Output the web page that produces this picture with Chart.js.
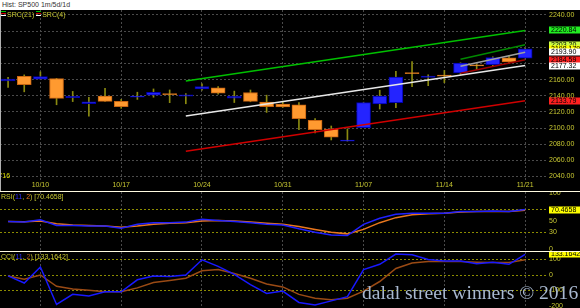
<!DOCTYPE html>
<html>
<head>
<meta charset="utf-8">
<script src="https://cdn.jsdelivr.net/npm/chart.js@4.4.0/dist/chart.umd.min.js"></script>
<style>
  html, body { margin: 0; padding: 0; background: #000; }
  body { width: 580px; height: 308px; position: relative; overflow: hidden; font-family: "Liberation Sans", Arial, sans-serif; }
  #hdr { position: absolute; left: 0; top: 0; width: 580px; height: 10px; background: #fff; color: #333; font-size: 7px; line-height: 10px; text-indent: 2px; }
  canvas { position: absolute; left: 0; }
  #c1 { top: 10px; }
  #c2 { top: 192px; }
  #c3 { top: 252px; }
  .sep { position: absolute; left: 0; width: 580px; height: 1px; background: #fffbe0; }
  #edge { position: absolute; left: 0; top: 10px; width: 1px; height: 181px; background: #b0b0b0; }
  .leg { position: absolute; left: 1px; font-size: 7px; line-height: 8px; color: #c8c832; white-space: nowrap; }
  .ico { display: inline-block; width: 5px; height: 1px; background: #00c000; box-shadow: 0 2px 0 #d00000, 0 4px 0 #ffffff; vertical-align: 5px; margin-right: 1px; }
  #yr { position: absolute; left: 1px; top: 172px; font-size: 7px; color: #e0e000; }
  #wm { position: absolute; left: 362px; top: 282px; font-family: "Liberation Serif", "DejaVu Serif", serif; font-size: 19.6px; color: #a8b8d0; white-space: nowrap; }
</style>
</head>
<body>
<div id="hdr">Hist: SP500 1m/5d/1d</div>
<canvas id="c1" width="580" height="181"></canvas>
<canvas id="c2" width="580" height="59"></canvas>
<canvas id="c3" width="580" height="56"></canvas>
<div id="edge"></div>
<div class="sep" style="top:191px"></div>
<div class="sep" style="top:251px"></div>
<div class="leg" style="top:11px"><span class="ico"></span>SRC(21) <span class="ico"></span>SRC(4)</div>
<div class="leg" style="top:193px">RSI(<span style="color:#3030ff">11</span>, <span style="color:#e8761e">2</span>) [70.4658]</div>
<div class="leg" style="top:253px">CCI(<span style="color:#3030ff">11</span>, <span style="color:#b05a1a">2</span>) [133.1642]</div>
<div id="yr">'16</div>
<div id="wm">dalal street winners © 2016</div>
<script>
const dates = ['10/06', '10/07', '10/10', '10/11', '10/12', '10/13', '10/14', '10/17', '10/18', '10/19', '10/20',
  '10/21', '10/24', '10/25', '10/26', '10/27', '10/28', '10/31', '11/01', '11/02', '11/03', '11/04', '11/07',
  '11/08', '11/09', '11/10', '11/11', '11/14', '11/15', '11/16', '11/17', '11/18', '11/21'];
const opens = [2158.22, 2164.19, 2160.39, 2161.35, 2137.67, 2130.26, 2139.68, 2132.95, 2138.31, 2140.81, 2142.51,
  2139.43, 2148.50, 2149.72, 2136.97, 2144.06, 2132.23, 2129.78, 2128.68, 2109.43, 2098.80, 2083.79, 2100.59,
  2129.92, 2131.56, 2167.49, 2162.71, 2165.64, 2168.29, 2177.53, 2178.61, 2186.85, 2186.43];
const highs = [2162.93, 2165.86, 2169.60, 2161.56, 2145.36, 2138.19, 2149.19, 2135.61, 2144.38, 2148.44, 2147.18,
  2142.63, 2154.79, 2151.44, 2145.73, 2147.13, 2140.72, 2133.25, 2131.45, 2111.76, 2102.56, 2099.07, 2132.00,
  2146.87, 2170.10, 2182.30, 2165.92, 2171.36, 2180.84, 2179.22, 2188.06, 2189.89, 2198.70];
const lows = [2150.28, 2144.85, 2160.39, 2128.84, 2132.77, 2114.72, 2132.98, 2124.43, 2135.49, 2138.15, 2131.42,
  2130.09, 2146.91, 2141.93, 2131.59, 2132.52, 2119.36, 2125.53, 2097.85, 2094.00, 2085.23, 2083.79, 2100.59,
  2123.56, 2125.35, 2151.17, 2152.49, 2156.08, 2166.38, 2172.20, 2176.65, 2180.38, 2186.43];
const closes = [2160.77, 2153.74, 2163.66, 2136.73, 2139.18, 2132.55, 2132.98, 2126.50, 2139.60, 2144.29, 2141.34,
  2141.16, 2151.33, 2143.16, 2139.43, 2133.04, 2126.41, 2126.15, 2111.72, 2097.94, 2088.66, 2085.18, 2131.52,
  2139.56, 2163.26, 2167.48, 2164.45, 2164.20, 2180.39, 2176.94, 2187.12, 2181.90, 2198.1799];

// regression channels: [start, end] at bar indexes
const src21Idx = [11, 32];
const src21Upper = [2158.4, 2220.84];
const src21Mid = [2114.9, 2177.32];
const src21Lower = [2071.4, 2133.79];
const src4Idx = [28, 32];
const src4Upper = [2185.1, 2203.2];
const src4Mid = [2176.5, 2193.9];
const src4Lower = [2167.9, 2184.59];

const rsi = [49, 48, 52, 42, 42, 41, 41, 37, 44, 47, 47, 48, 53, 51, 49, 47, 44, 43, 36, 30, 25, 24, 44, 55, 62,
  64, 64, 64, 67, 67, 68, 67, 70.4658];
const rsiSignal = [49, 48.5, 50, 45, 43, 42, 41, 39, 41, 44, 46, 47, 50, 51, 50, 48, 46, 44, 40, 35, 30, 27, 35,
  47, 56, 61, 63, 64, 66, 67, 67, 67, 69];
const cci = [-6, -52, 52, -190, -125, -135, -108, -108, -31, -6, -10, 0, 98, 56, 4, -62, -119, -104, -177, -193,
  -167, -140, 35, 69, 135, 131, 100, 90, 90, 73, 83, 69, 133.1642];
const cciSignal = [-6, -27, 0, -73, -90, -98, -108, -108, -83, -48, -35, -21, 27, 35, 10, -21, -58, -77, -125,
  -150, -160, -150, -104, -42, 42, 77, 87, 87, 87, 83, 81, 81, 98];

const tickDates = ['10/10', '10/17', '10/24', '10/31', '11/07', '11/14', '11/21'];
const priceTicks = [2040, 2060, 2080, 2100, 2120, 2140, 2160, 2180, 2200, 2220, 2240];
const rsiTicks = [0, 30, 50, 70, 100];
const rsiLevels = [30, 70];
const cciTicks = [-200, -100, 0, 100];
const cciLevels = [-100, 0, 100];

const axisText = '#c8c832';
const gridGray = '#4a4a4a';
const levelColor = '#8c8c00';
const tickFont = { family: 'Liberation Sans', size: 7 };
Chart.defaults.font.family = 'Liberation Sans';
Chart.defaults.animation = false;

function xAxis(showLabels) {
  return {
    type: 'linear',
    offset: false,
    min: -0.5,
    max: 33.29,
    afterBuildTicks: (s) => { s.ticks = tickDates.map((d) => ({ value: dates.indexOf(d) })); },
    afterFit: (s) => { s.height = showLabels ? 11 : 0; s.paddingLeft = 0; s.paddingRight = 0; },
    grid: { color: gridGray, drawTicks: false, offset: false },
    border: { display: false, dash: [2, 2] },
    ticks: { display: showLabels, autoSkip: false, maxRotation: 0, padding: 1, color: axisText, font: tickFont,
      callback: (v) => dates[v] },
  };
}

function yAxis(min, max, ticks, gridColor, fmt) {
  return {
    position: 'right',
    min: min,
    max: max,
    afterBuildTicks: (s) => { s.ticks = ticks.map((v) => ({ value: v })); },
    afterFit: (s) => { s.width = 34; s.paddingTop = 0; s.paddingBottom = 0; },
    grid: { color: gridColor, drawTicks: false },
    border: { display: false, dash: [2, 2] },
    ticks: { color: axisText, font: tickFont, padding: 3, autoSkip: false, callback: fmt },
  };
}

// value boxes on the right axis
const boxPlugin = {
  id: 'boxes',
  afterDraw(chart, args, opts) {
    const y = chart.scales.y;
    const ctx = chart.ctx;
    ctx.save();
    ctx.font = '7px "Liberation Sans"';
    ctx.textBaseline = 'middle';
    opts.items.forEach((it) => {
      const py = Math.round(y.getPixelForValue(it.value));
      ctx.fillStyle = it.bg;
      ctx.fillRect(y.left + 3, py - 3.5, chart.width - y.left - 3, 7);
      ctx.fillStyle = it.fg || '#000';
      ctx.fillText(it.text, y.left + 5, py + 0.5);
    });
    ctx.restore();
  },
};

const seg = (idx, vals) => idx.map((x, i) => ({ x: x, y: vals[i] }));
const lineDs = (data, color, width, order) => ({
  type: 'line', data: data, borderColor: color, borderWidth: width, pointRadius: 0, order: order,
});

const up = closes.map((c, i) => c >= opens[i]);

new Chart(document.getElementById('c1'), {
  type: 'bar',
  data: {
    datasets: [
      lineDs(seg(src21Idx, src21Upper), '#00c000', 1.5, 0),
      lineDs(seg(src21Idx, src21Mid), '#e8e8e8', 1.5, 0),
      lineDs(seg(src21Idx, src21Lower), '#d00000', 1.5, 0),
      lineDs(seg(src4Idx, src4Upper), '#008a00', 1.5, 0),
      lineDs(seg(src4Idx, src4Mid), '#a0a0a0', 1.5, 0),
      lineDs(seg(src4Idx, src4Lower), '#a00000', 1.5, 0),
      {
        data: dates.map((d, i) => ({ x: i, y: [opens[i], closes[i]] })),
        backgroundColor: up.map((u) => (u ? '#2424ff' : '#ff9a30')),
        borderColor: up.map((u) => (u ? '#0000b0' : '#c86410')),
        borderWidth: 1,
        borderSkipped: false,
        barThickness: 14,
        minBarLength: 1,
        grouped: false,
        order: 1,
      },
      {
        data: dates.map((d, i) => ({ x: i, y: [lows[i], highs[i]] })),
        backgroundColor: '#8a8a10',
        barThickness: 1,
        grouped: false,
        order: 2,
      },
    ],
  },
  options: {
    responsive: false,
    layout: { padding: 0 },
    plugins: {
      legend: { display: false },
      tooltip: { enabled: false },
      boxes: {
        items: [
          { value: src21Upper[1], text: src21Upper[1].toFixed(2), bg: '#22ee22' },
          { value: src4Upper[1], text: src4Upper[1].toFixed(2), bg: '#ccff44' },
          { value: closes[32], text: closes[32].toFixed(4), bg: '#ffff00' },
          { value: src4Mid[1], text: src4Mid[1].toFixed(2), bg: '#ffffff' },
          { value: src4Lower[1], text: src4Lower[1].toFixed(2), bg: '#ff2020' },
          { value: src21Mid[1], text: src21Mid[1].toFixed(2), bg: '#ffffff' },
          { value: src21Lower[1], text: src21Lower[1].toFixed(2), bg: '#ff2020' },
        ],
      },
    },
    scales: {
      x: xAxis(true),
      y: yAxis(2035.67, 2246.19, priceTicks, gridGray, (v) => v.toFixed(2)),
    },
  },
  plugins: [boxPlugin],
});

new Chart(document.getElementById('c2'), {
  type: 'line',
  data: {
    datasets: [
      lineDs(dates.map((d, i) => ({ x: i, y: rsi[i] })), '#2020ff', 1.5, 0),
      lineDs(dates.map((d, i) => ({ x: i, y: rsiSignal[i] })), '#e8761e', 1.5, 1),
    ],
  },
  options: {
    responsive: false,
    layout: { padding: 0 },
    plugins: {
      legend: { display: false },
      tooltip: { enabled: false },
      boxes: { items: [{ value: rsi[32], text: rsi[32].toFixed(4), bg: '#ffff00' }] },
    },
    scales: {
      x: xAxis(false),
      y: yAxis(-3.6, 101.8, rsiTicks,
        (c) => (c.tick && rsiLevels.includes(c.tick.value) ? levelColor : 'rgba(0,0,0,0)'),
        (v) => String(v)),
    },
  },
  plugins: [boxPlugin],
});

new Chart(document.getElementById('c3'), {
  type: 'line',
  data: {
    datasets: [
      lineDs(dates.map((d, i) => ({ x: i, y: cci[i] })), '#1818ff', 1.5, 0),
      lineDs(dates.map((d, i) => ({ x: i, y: cciSignal[i] })), '#9a4a14', 1.5, 1),
    ],
  },
  options: {
    responsive: false,
    layout: { padding: 0 },
    plugins: {
      legend: { display: false },
      tooltip: { enabled: false },
      boxes: { items: [{ value: cci[32], text: cci[32].toFixed(4), bg: '#ffff00' }] },
    },
    scales: {
      x: xAxis(false),
      y: yAxis(-212.9, 148.4, cciTicks,
        (c) => (c.tick && cciLevels.includes(c.tick.value) ? levelColor : 'rgba(0,0,0,0)'),
        (v) => String(v)),
    },
  },
  plugins: [boxPlugin],
});
</script>
</body>
</html>
